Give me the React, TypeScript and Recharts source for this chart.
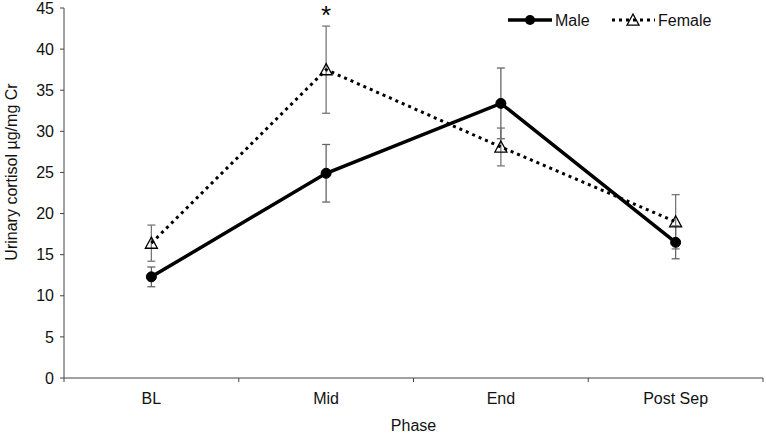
import React from "react"
import { LineChart, Line, XAxis, YAxis, ErrorBar, ReferenceDot } from "recharts"

const PHASES = ["BL", "Mid", "End", "Post Sep"]
const MALE = [12.3, 24.9, 33.4, 16.5]
const MALE_ERR = [1.2, 3.5, 4.3, 2.0]
const FEMALE = [16.4, 37.5, 28.1, 19.0]
const FEMALE_ERR = [2.2, 5.3, 2.3, 3.3]
const SIG = ["", "*", "", ""]
const Y_TICKS = [0, 5, 10, 15, 20, 25, 30, 35, 40, 45]

const W = 766
const H = 434
const M = { top: 8, right: 3, bottom: 0, left: 0 }
const Y_W = 64
const X_H = 56
const BAND = (W - M.right - M.left - Y_W) / PHASES.length
const FONT = "'Liberation Sans', Arial, sans-serif"
const AXIS = "#444"

const data = PHASES.map((phase, i) => ({
  phase,
  male: MALE[i],
  maleErr: MALE_ERR[i],
  female: FEMALE[i],
  femaleErr: FEMALE_ERR[i],
}))

/* ── open triangle marker ── */
function Triangle({ cx, cy }: any) {
  if (cx == null || cy == null) return null
  const s = 6
  return (
    <path
      d={`M${cx},${cy - s} L${cx + s},${cy + s * 0.85} L${cx - s},${cy + s * 0.85} Z`}
      fill="#fff"
      fillOpacity={0}
      stroke="#000"
      strokeWidth={1.3}
    />
  )
}

/* ── Excel-style category tick: marks between categories ── */
function PhaseTick({ x, y, payload, index }: any) {
  const last = index === PHASES.length - 1
  return (
    <g>
      <line x1={x - BAND / 2} y1={y} x2={x - BAND / 2} y2={y + 4} stroke={AXIS} />
      {last && <line x1={x + BAND / 2} y1={y} x2={x + BAND / 2} y2={y + 4} stroke={AXIS} />}
      <text x={x} y={y + 20} dy="0.355em" textAnchor="middle" fontSize={16} fill="#111" fontFamily={FONT}>
        {payload.value}
      </text>
    </g>
  )
}

function YLabel({ viewBox }: any) {
  const cx = 11
  const cy = viewBox.y + viewBox.height / 2 - 21
  return (
    <text
      x={cx}
      y={cy}
      transform={`rotate(-90 ${cx} ${cy})`}
      textAnchor="middle"
      dy="0.355em"
      fontSize={16}
      fill="#111"
      fontFamily={FONT}
    >
      Urinary cortisol µg/mg Cr
    </text>
  )
}

function SigLabel({ viewBox, value }: any) {
  return (
    <text x={viewBox.cx ?? viewBox.x} y={(viewBox.cy ?? viewBox.y) + 13} textAnchor="middle" fontSize={26} fill="#000" fontFamily={FONT}>
      {value}
    </text>
  )
}

function ChartLegend() {
  return (
    <div style={{ position: "absolute", left: 0, top: 0, pointerEvents: "none" }}>
      <svg width={W} height={40}>
        <g fontFamily={FONT} fontSize={16} fill="#111">
          <line x1={508} y1={20} x2={552} y2={20} stroke="#000" strokeWidth={3.5} />
          <circle cx={530} cy={20} r={5} fill="#000" />
          <text x={555} y={20} dy="0.355em">Male</text>
          <line x1={612} y1={20} x2={655} y2={20} stroke="#000" strokeWidth={3} strokeDasharray="3 4" />
          <Triangle cx={633} cy={20} />
          <text x={658} y={20} dy="0.355em">Female</text>
        </g>
      </svg>
    </div>
  )
}

export default function App() {
  return (
    <div style={{ position: "absolute", left: 0, top: 0, width: W, height: H, background: "#fff" }}>
      <LineChart width={W} height={H} data={data} margin={M}>
        <XAxis
          dataKey="phase"
          height={X_H}
          stroke={AXIS}
          padding={{ left: BAND / 2, right: BAND / 2 }}
          tickLine={false}
          tickSize={0}
          tickMargin={0}
          tick={<PhaseTick />}
          interval={0}
          label={{ value: "Phase", position: "insideBottom", offset: 3, fontSize: 16, fill: "#111", fontFamily: FONT }}
        />
        <YAxis
          width={Y_W}
          domain={[0, 45]}
          ticks={Y_TICKS}
          interval={0}
          stroke={AXIS}
          tickSize={4}
          tickMargin={6}
          tick={{ fontSize: 16, fill: "#111", fontFamily: FONT }}
          label={<YLabel />}
        />
        <Line
          dataKey="female"
          stroke="#000"
          strokeWidth={3}
          strokeDasharray="3 4"
          dot={<Triangle />}
          activeDot={false}
          isAnimationActive={false}
        >
          <ErrorBar dataKey="femaleErr" width={4} stroke="#777" strokeWidth={1.3} direction="y" />
        </Line>
        <Line
          dataKey="male"
          stroke="#000"
          strokeWidth={3.5}
          dot={{ r: 5, fill: "#000", stroke: "#000", strokeWidth: 1 }}
          activeDot={false}
          isAnimationActive={false}
        >
          <ErrorBar dataKey="maleErr" width={4} stroke="#666" strokeWidth={1.3} direction="y" />
        </Line>
        {PHASES.map((p, i) =>
          SIG[i] ? (
            <ReferenceDot
              key={p}
              x={p}
              y={FEMALE[i] + FEMALE_ERR[i] + 1.8}
              r={0}
              fill="none"
              stroke="none"
              label={<SigLabel value={SIG[i]} />}
            />
          ) : null
        )}
      </LineChart>
      <ChartLegend />
    </div>
  )
}
